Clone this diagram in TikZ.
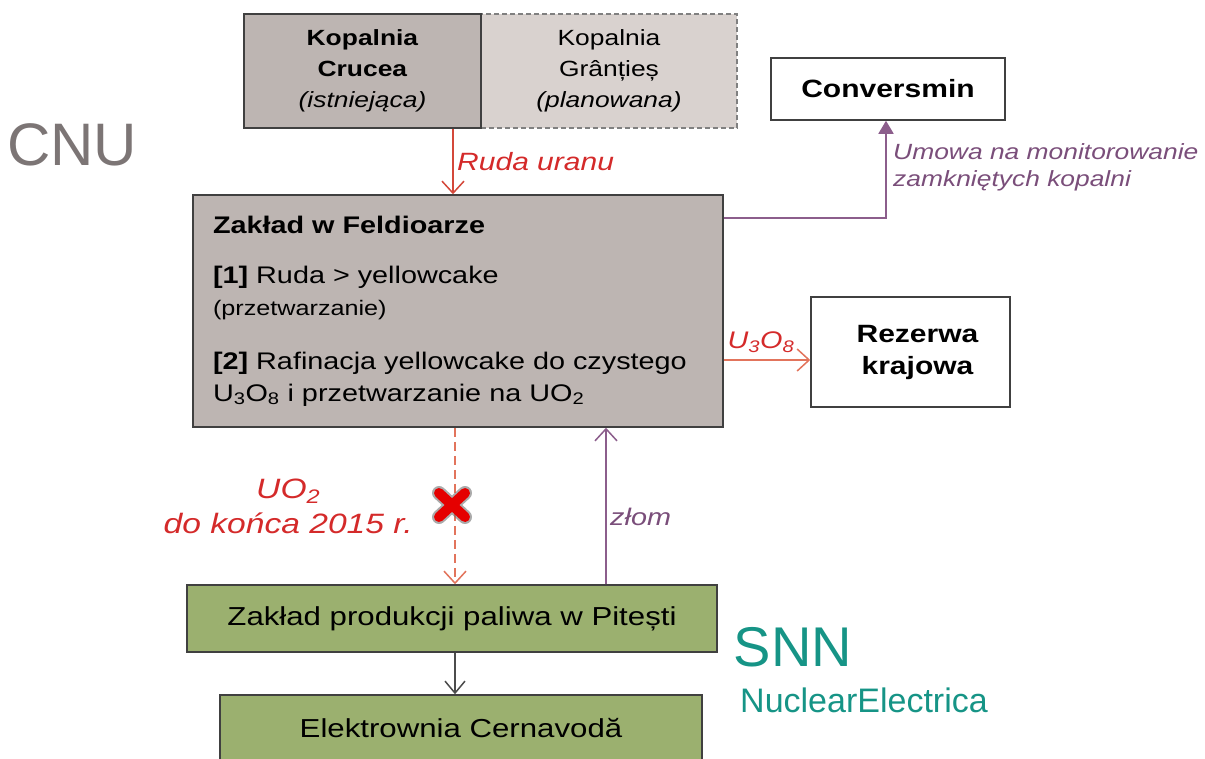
\documentclass[tikz,border=0pt]{standalone}
\usepackage{fontspec}
\setmainfont[FakeStretch=1.2]{Liberation Sans}
\newfontfamily\logofont{Liberation Sans}
\usetikzlibrary{arrows.meta}
\definecolor{orered}{RGB}{226,116,92}
\definecolor{orered2}{RGB}{212,72,58}
\definecolor{labred}{RGB}{212,42,42}
\definecolor{plum}{RGB}{140,94,140}
\definecolor{plumtext}{RGB}{122,78,122}
\definecolor{minegray}{RGB}{189,181,178}
\definecolor{plangray}{RGB}{217,210,207}
\definecolor{fuelgreen}{RGB}{155,176,111}
\definecolor{cnugray}{RGB}{124,117,117}
\definecolor{snnteal}{RGB}{22,148,134}
\tikzset{
  unit/.style={rectangle,draw=black!75,line width=1.5pt,align=center,inner sep=0pt},
  redline/.style={orered,line width=1.8pt,-{Straight Barb[length=12pt,width=22pt,line width=1.5pt]}},
  plumline/.style={plum,line width=1.8pt},
  lab/.style={font=\fontsize{24}{30}\selectfont\itshape,align=left}
}
\begin{document}
\begin{tikzpicture}[x=1pt,y=-1pt]
\useasboundingbox (0,0) rectangle (1205,758);
\path (609,71) node(granties)[unit,fill=plangray,draw=black!50,dash pattern=on 5pt off 3pt,line width=1.2pt,minimum width=256pt,minimum height=114pt,font=\fontsize{22}{31}\selectfont]{Kopalnia\\Grânțieș\\\textit{(planowana)}}
(362.5,71) node(crucea)[unit,fill=minegray,line width=2pt,minimum width=237pt,minimum height=114pt,font=\fontsize{22}{31}\selectfont]{\textbf{Kopalnia}\\\textbf{Crucea}\\\textit{(istniejąca)}}
(888,89) node(convers)[unit,fill=white,minimum width=234pt,minimum height=62pt,font=\fontsize{25}{30}\selectfont\bfseries]{Conversmin}
(458,311) node(feld)[unit,fill=minegray,align=left,text width=490pt,inner xsep=20pt,minimum height=232pt,font=\fontsize{24}{32}\selectfont]{\textbf{Zakład w Feldioarze}\\[18pt]
\textbf{[1]} Ruda > yellowcake\\
{\fontsize{21}{24}\selectfont (przetwarzanie)}\\[22pt]
\textbf{[2]} Rafinacja yellowcake do czystego\\
U\textsubscript{3}O\textsubscript{8} i przetwarzanie na UO\textsubscript{2}}
(910.5,352) node(rezerwa)[unit,fill=white,minimum width=199pt,minimum height=110pt,font=\fontsize{25}{32}\selectfont\bfseries]{\hspace*{14pt}Rezerwa\\\hspace*{14pt}krajowa}
(452,618.5) node(pitesti)[unit,fill=fuelgreen,minimum width=530pt,minimum height=67pt,font=\fontsize{26}{30}\selectfont]{Zakład produkcji paliwa w Pitești}
(461,728.5) node(cerna)[unit,fill=fuelgreen,minimum width=482pt,minimum height=67pt,font=\fontsize{26}{30}\selectfont]{Elektrownia Cernavodă}
(72,145) node(cnu)[cnugray,font=\logofont\fontsize{60}{60}\selectfont]{CNU}
(793,647) node(snn)[snnteal,font=\logofont\fontsize{56}{56}\selectfont]{SNN}
(864,700) node(nuclear)[snnteal,font=\logofont\fontsize{34}{34}\selectfont]{NuclearElectrica};
\coordinate (ruda) at (453,0);
\coordinate (umowa) at (886,218);
\coordinate (oxide) at (0,360);
\coordinate (uo) at (455,0);
\coordinate (zlom) at (606,0);
\coordinate (cross) at (452,505);
\draw[redline,orered2](crucea.south -| ruda)--node[lab,right,labred,font=\fontsize{25}{30}\selectfont\itshape]{Ruda uranu}(feld.north -| ruda);
\draw[plumline,-{Triangle[length=13pt,width=15pt]}](feld.east |- umowa)-|node[lab,pos=0.76,right,plumtext,xshift=3pt,font=\fontsize{22}{27}\selectfont\itshape]{Umowa na monitorowanie\\zamkniętych kopalni}(convers.south -| umowa);
\draw[redline](feld.east |- oxide)--node[lab,above,labred,xshift=-6pt,yshift=3pt]{U\textsubscript{3}O\textsubscript{8}}(rezerwa.west |- oxide);
\draw[redline,dash pattern=on 9pt off 5pt](feld.south -| uo)--node[lab,left,labred,align=center,xshift=-38pt,font=\fontsize{28}{35}\selectfont\itshape]{UO\textsubscript{2}\\do końca 2015 r.}(pitesti.north -| uo);
\draw[plumline,-{Straight Barb[length=12pt,width=22pt,line width=1.5pt]}](pitesti.north -| zlom)--node[lab,pos=0.43,right,plumtext]{złom}(feld.south -| zlom);
\draw[black!70,line width=1.8pt,-{Straight Barb[length=12pt,width=20pt,line width=1.5pt]}](pitesti.south -| uo)--(cerna.north -| uo);
\draw[black!55,opacity=.6,line width=14pt,line cap=round]([shift={(-13,-12)}]cross)--([shift={(13,12)}]cross) ([shift={(-13,12)}]cross)--([shift={(13,-12)}]cross);
\draw[red!90!black,line width=10pt,line cap=round]([shift={(-13,-12)}]cross)--([shift={(13,12)}]cross) ([shift={(-13,12)}]cross)--([shift={(13,-12)}]cross);
\end{tikzpicture}
\end{document}
